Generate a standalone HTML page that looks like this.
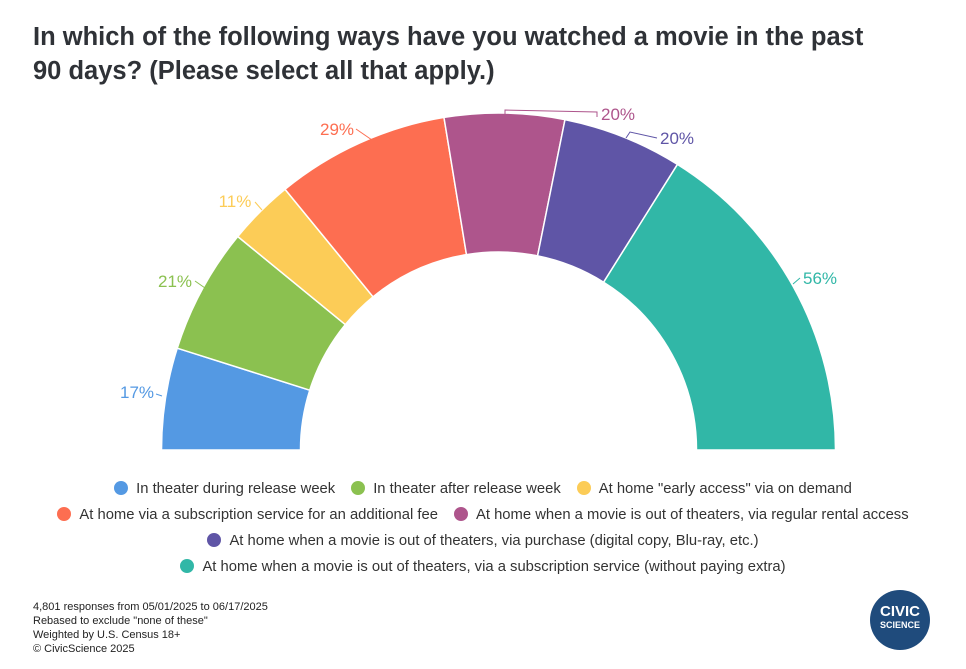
<!DOCTYPE html>
<html><head><meta charset="utf-8"><style>
body{margin:0;background:#fff;width:966px;height:669px;overflow:hidden;font-family:"Liberation Sans",sans-serif;position:relative}
.t{position:absolute;left:33px;top:20px;font-size:25.5px;font-weight:bold;color:#2f3237;line-height:34px;width:860px}
.leg{position:absolute;left:0;width:966px;text-align:center;font-size:14.8px;color:#333}
.leg span{display:inline-block;margin:0 8px}
.leg i{display:inline-block;width:14px;height:14px;border-radius:50%;vertical-align:-2px;margin-right:8px}
.f{position:absolute;left:33px;top:600px;font-size:11px;line-height:14px;color:#222}
</style></head><body>
<div class="t">In which of the following ways have you watched a movie in the past 90 days? (Please select all that apply.)</div>
<svg id="s" width="966" height="669" style="position:absolute;left:0;top:0"></svg>
<div class="leg" style="top:481px"><span><i style="background:#5499e3"></i>In theater during release week</span><span><i style="background:#8bc150"></i>In theater after release week</span><span><i style="background:#fccc57"></i>At home "early access" via on demand</span></div>
<div class="leg" style="top:507px"><span><i style="background:#fd6e51"></i>At home via a subscription service for an additional fee</span><span><i style="background:#ae558c"></i>At home when a movie is out of theaters, via regular rental access</span></div>
<div class="leg" style="top:533px"><span><i style="background:#5f55a6"></i>At home when a movie is out of theaters, via purchase (digital copy, Blu-ray, etc.)</span></div>
<div class="leg" style="top:559px"><span><i style="background:#31b7a7"></i>At home when a movie is out of theaters, via a subscription service (without paying extra)</span></div>
<div class="f">4,801 responses from 05/01/2025 to 06/17/2025<br>Rebased to exclude "none of these"<br>Weighted by U.S. Census 18+<br>© CivicScience 2025</div>
<div style="position:absolute;left:870px;top:590px;width:60px;height:60px;border-radius:50%;background:#1f4b7c;color:#fff;text-align:center;font-weight:bold">
<div style="font-size:15px;margin-top:14px;line-height:15px">CIVIC</div><div style="font-size:9px;line-height:12px">SCIENCE</div></div>
<script>
var v=[17,21,11,29,20,20,56],c=["#5499e3","#8bc150","#fccc57","#fd6e51","#ae558c","#5f55a6","#31b7a7"];
var cx=498.5,cy=450,R=337,r=198,tot=174,a=Math.PI,h="";
function p(rad,an){return (cx+rad*Math.cos(an)).toFixed(2)+","+(cy-rad*Math.sin(an)).toFixed(2)}
for(var i=0;i<7;i++){var b=a-v[i]/tot*Math.PI;
h+='<path d="M'+p(R,a)+' A'+R+','+R+' 0 0 1 '+p(R,b)+' L'+p(r,b)+' A'+r+','+r+' 0 0 0 '+p(r,a)+'Z" fill="'+c[i]+'" stroke="#fff" stroke-width="1.5"/>';a=b;}
var L=[[137,398,"17%",0],[175,287,"21%",1],[235,207,"11%",2],[337,135,"29%",3],[618,120,"20%",4],[677,144,"20%",5],[820,284,"56%",6]];
L.forEach(function(l){h+='<text x="'+l[0]+'" y="'+l[1]+'" text-anchor="middle" font-size="17" fill="'+c[l[3]]+'" font-family="Liberation Sans,sans-serif">'+l[2]+'</text>'});
h+='<path d="M156,394 L162,396" stroke="#5499e3" fill="none"/><path d="M195,281 L205,288" stroke="#8bc150" fill="none"/><path d="M255,202 L262,210" stroke="#fccc57" fill="none"/><path d="M356,129 L372,140" stroke="#fd6e51" fill="none"/><path d="M505,115 L505,110 L597,112 L597,117" stroke="#ae558c" fill="none"/><path d="M626,138 L630,132 L657,138" stroke="#5f55a6" fill="none"/><path d="M800,278 L793,284" stroke="#31b7a7" fill="none"/>';
document.getElementById("s").innerHTML=h;
</script>
</body></html>
